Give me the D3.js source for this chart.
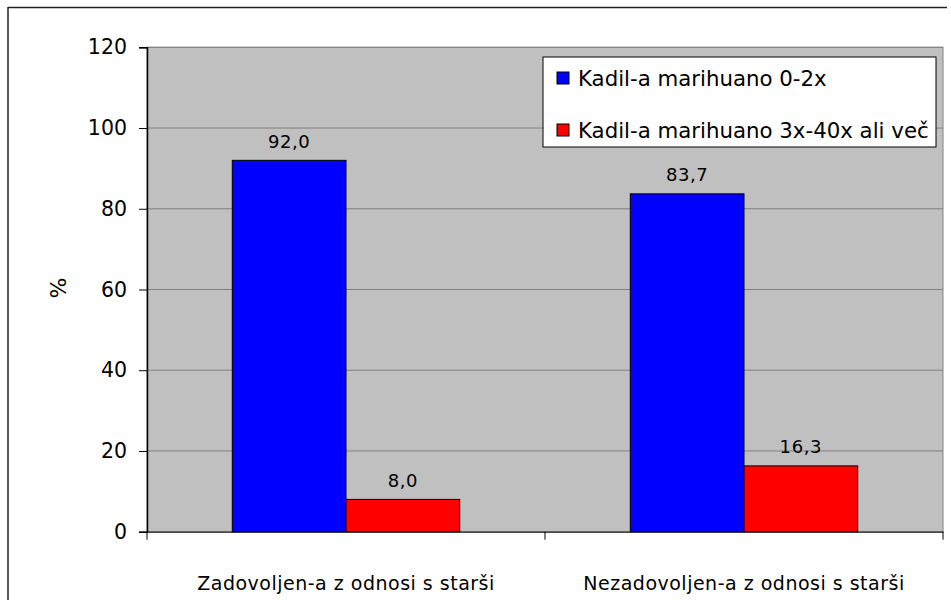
<!DOCTYPE html>
<html><head><meta charset="utf-8">
<script src="https://cdn.jsdelivr.net/npm/d3@7"></script>
<style>body{margin:0;background:#fff}svg{display:block}text{font-family:"DejaVu Sans",Verdana,sans-serif;fill:#000}</style>
</head><body><svg id="c" width="951" height="600"></svg>
<script>
const categories = ["Zadovoljen-a z odnosi s starši", "Nezadovoljen-a z odnosi s starši"];
const seriesNames = ["Kadil-a marihuano 0-2x", "Kadil-a marihuano 3x-40x ali več"];
const seriesLow = [92.0, 83.7];
const seriesHigh = [8.0, 16.3];
const seriesColors = ["#0000FF", "#FF0000"];
const yTicks = [0, 20, 40, 60, 80, 100, 120];
const yLabel = "%";

const svg = d3.select("#c");
const FF = "DejaVu Sans, Verdana, sans-serif";
const L = 147, R = 943, T = 47.3, B = 531.7;
const x0 = d3.scaleBand().domain(categories).range([L, R]);
const x1 = d3.scaleBand().domain([0, 1]).range([0, x0.bandwidth()]).paddingOuter(0.75).paddingInner(0);
const y = d3.scaleLinear().domain([0, 120]).range([B, T]);

// outer frame
svg.append("line").attr("x1", 8).attr("x2", 8).attr("y1", 7).attr("y2", 600).attr("stroke", "#222").attr("stroke-width", 1.5);
svg.append("line").attr("x1", 8).attr("x2", 947).attr("y1", 7.5).attr("y2", 7.5).attr("stroke", "#222").attr("stroke-width", 1.5);

// plot area
svg.append("rect").attr("x", L).attr("y", T).attr("width", R - L).attr("height", B - T).attr("fill", "#C0C0C0").attr("stroke", "#808080").attr("stroke-width", 1);

// gridlines
svg.append("g").selectAll("line").data(yTicks.filter(d => d > 0)).join("line")
  .attr("x1", L).attr("x2", R).attr("y1", d => y(d)).attr("y2", d => y(d))
  .attr("stroke", "#808080").attr("stroke-width", 1);

// bars
const series = [seriesLow, seriesHigh];
const g = svg.append("g");
categories.forEach((c, i) => {
  series.forEach((s, j) => {
    const bx = x0(c) + x1(j);
    g.append("rect").attr("x", bx).attr("y", y(s[i])).attr("width", x1.bandwidth()).attr("height", y(0) - y(s[i]))
      .attr("fill", seriesColors[j]).attr("stroke", "#000").attr("stroke-width", 1);
    g.append("text").attr("x", bx + x1.bandwidth() / 2).attr("y", y(s[i]) - 12.5)
      .attr("text-anchor", "middle").attr("font-size", 18).attr("letter-spacing", 0.6)
      .text(d3.format(".1f")(s[i]).replace(".", ","));
  });
});

// y axis
const yAxis = d3.axisLeft(y).tickValues(yTicks).tickSize(8).tickPadding(12).tickFormat(d3.format("d"));
const ya = svg.append("g").attr("transform", `translate(${L},0)`).call(yAxis);
ya.select(".domain").attr("stroke", "#000").attr("stroke-width", 1.5);
ya.selectAll(".tick line").attr("stroke", "#000");
ya.selectAll(".tick text").attr("font-size", 20.5).attr("font-family", FF).attr("fill", "#000");

// x axis
const xAxis = d3.axisBottom(x0).tickSize(0).tickPadding(0);
const xa = svg.append("g").attr("transform", `translate(0,${B})`).call(xAxis);
xa.select(".domain").attr("stroke", "#000").attr("stroke-width", 1);
xa.selectAll(".tick text").attr("font-size", 19).attr("dy", 0).attr("y", 58).attr("letter-spacing", 0.5)
  .attr("font-family", FF).attr("fill", "#000");
svg.append("g").selectAll("line").data([L, L + x0.step(), R]).join("line")
  .attr("x1", d => d).attr("x2", d => d).attr("y1", B).attr("y2", B + 8).attr("stroke", "#000");

// y label
svg.append("text").attr("transform", "translate(60,288) rotate(-90)").attr("text-anchor", "middle")
  .attr("dominant-baseline", "middle").attr("font-size", 22).text(yLabel);

// legend
const lg = svg.append("g");
lg.append("rect").attr("x", 543).attr("y", 57).attr("width", 393).attr("height", 90).attr("fill", "#fff").attr("stroke", "#000");
seriesNames.forEach((n, j) => {
  const cy = 78 + j * 52;
  lg.append("rect").attr("x", 557).attr("y", cy - 6).attr("width", 12).attr("height", 12).attr("fill", seriesColors[j]).attr("stroke", "#000");
  lg.append("text").attr("x", 578).attr("y", cy).attr("dominant-baseline", "central").attr("font-size", 21.3).text(n);
});
</script></body></html>
